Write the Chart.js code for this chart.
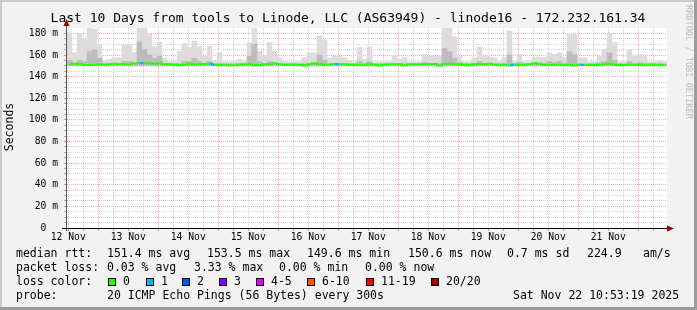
<!DOCTYPE html>
<html>
<head>
<meta charset="utf-8">
<script src="https://cdn.jsdelivr.net/npm/chart.js@4.4.1/dist/chart.umd.min.js"></script>
<style>
  html, body { margin: 0; padding: 0; background: #f2f2f2; overflow: hidden; }
  #chart { display: block; }
</style>
</head>
<body>
<canvas id="chart" width="697" height="310"></canvas>
<script>
// 1. DATA (one value per 2 hour bin, 120 bins = 10 days)
const dayLabels = ['12 Nov', '13 Nov', '14 Nov', '15 Nov', '16 Nov', '17 Nov', '18 Nov', '19 Nov', '20 Nov', '21 Nov'];

const medianRtt = [
  151.7, 152.0, 151.7, 150.8, 150.8, 151.1, 151.4, 151.1, 151.4, 152.0,
  151.7, 151.4, 151.4, 152.3, 152.6, 152.3, 152.3, 152.0, 152.3, 151.4,
  151.4, 151.1, 150.8, 151.1, 152.0, 151.4, 151.4, 151.7, 152.0, 151.1,
  151.1, 150.8, 150.5, 150.5, 151.1, 151.4, 151.4, 150.5, 150.8, 151.4,
  151.4, 152.3, 151.7, 151.1, 151.1, 151.1, 150.8, 150.2, 151.4, 152.3,
  151.4, 151.1, 151.1, 151.7, 151.4, 151.4, 151.1, 151.1, 151.1, 151.1,
  151.4, 151.1, 150.2, 151.1, 151.4, 151.4, 151.4, 150.2, 151.4, 151.4,
  151.4, 151.7, 151.7, 151.7, 150.2, 152.0, 152.0, 151.4, 151.4, 151.1,
  150.5, 151.4, 151.4, 151.7, 152.0, 151.1, 151.1, 151.1, 150.5, 151.1,
  151.1, 151.1, 151.4, 152.3, 152.0, 151.1, 151.1, 151.1, 151.1, 151.1,
  151.1, 150.2, 151.1, 150.8, 150.8, 150.8, 150.8, 151.4, 152.0, 151.1,
  150.8, 150.8, 151.1, 151.1, 151.1, 151.1, 151.1, 151.1, 151.1, 150.8
];

const smokeMax = [
  180.6, 162.0, 180.0, 174.5, 184.6, 184.0, 170.0, 155.0, 156.0, 157.5,
  157.5, 169.0, 170.0, 162.0, 184.6, 184.6, 179.0, 168.0, 172.0, 157.0,
  154.0, 154.0, 163.5, 170.5, 167.0, 173.0, 168.0, 159.0, 168.0, 154.0,
  162.0, 153.8, 153.8, 154.0, 156.0, 154.0, 171.5, 184.6, 163.5, 159.0,
  171.5, 163.5, 157.5, 154.0, 153.8, 153.8, 153.8, 157.5, 162.0, 162.0,
  177.7, 173.8, 157.5, 159.0, 159.0, 157.5, 155.0, 153.8, 167.0, 156.0,
  167.4, 153.8, 153.8, 153.8, 153.8, 159.0, 156.0, 158.0, 153.8, 153.8,
  153.8, 160.6, 159.0, 159.0, 159.0, 185.0, 185.0, 176.6, 159.0, 153.8,
  153.8, 157.5, 167.4, 159.0, 158.0, 157.5, 153.8, 157.5, 182.0, 153.8,
  160.6, 153.8, 153.8, 158.0, 158.0, 157.5, 162.0, 160.6, 162.0, 157.5,
  179.0, 179.0, 157.5, 157.5, 153.8, 153.8, 159.0, 165.3, 180.0, 171.5,
  153.8, 153.8, 165.3, 159.0, 160.6, 159.0, 153.8, 153.8, 155.0, 153.8
];

const smokeMid = [
  155.0, 152.0, 155.0, 154.0, 163.0, 165.0, 157.0, 152.0, 152.0, 152.0,
  152.0, 154.0, 154.0, 152.0, 172.0, 165.0, 160.0, 157.0, 159.0, 152.0,
  152.0, 152.0, 152.0, 154.0, 154.0, 157.0, 154.0, 152.0, 154.0, 152.0,
  152.0, 152.0, 152.0, 152.0, 152.0, 152.0, 159.0, 170.0, 154.0, 152.0,
  154.0, 152.0, 152.0, 152.0, 152.0, 152.0, 152.0, 152.0, 152.0, 152.0,
  160.0, 155.0, 152.0, 152.0, 152.0, 152.0, 152.0, 152.0, 154.0, 152.0,
  154.0, 152.0, 152.0, 152.0, 152.0, 152.0, 152.0, 152.0, 152.0, 152.0,
  152.0, 153.0, 152.0, 152.0, 152.0, 166.0, 163.0, 157.0, 153.0, 152.0,
  152.0, 152.0, 154.0, 152.0, 152.0, 152.0, 152.0, 152.0, 160.0, 152.0,
  153.0, 152.0, 152.0, 152.0, 152.0, 152.0, 154.0, 153.0, 154.0, 152.0,
  163.0, 160.0, 152.0, 152.0, 152.0, 152.0, 153.0, 154.0, 162.0, 155.0,
  152.0, 152.0, 154.0, 152.0, 153.0, 152.0, 152.0, 152.0, 152.0, 152.0
];

const lossBins = [14, 28, 53, 88, 102];   // bins with 1/20 lost
const smokeLow = 150;

const lossColors = ['#26ff00', '#00b8ff', '#0059ff', '#7e00ff', '#dd00ff', '#ff5500', '#ff0000', '#a10000'];
const lossNames = ['0', '1', '2', '3', '4-5', '6-10', '11-19', '20/20'];

const binHours = 2;
const firstMidnight = 12.5;   // hours after graph start
const mono = '"DejaVu Sans Mono", "Liberation Mono", monospace';

const hours = medianRtt.map((v, i) => i * binHours + binHours / 2);

// 2. PLUGINS (frame, legend text, axes arrows)
const rrdFrame = {
  id: 'rrdFrame',
  beforeDraw(chart) {
    const c = chart.ctx, a = chart.chartArea;
    c.save();
    c.fillStyle = '#f2f2f2';
    c.fillRect(0, 0, 697, 310);
    c.fillStyle = '#cbcbcb';
    c.fillRect(0, 0, 697, 2);
    c.fillRect(0, 0, 2, 310);
    c.fillStyle = '#9c9c9c';
    c.fillRect(0, 307, 697, 3);
    c.fillRect(694, 0, 3, 310);
    c.fillStyle = '#ffffff';
    c.fillRect(a.left, a.top, a.right - a.left, a.bottom - a.top);
    c.restore();
  },
  afterDraw(chart) {
    const c = chart.ctx, a = chart.chartArea;
    c.save();
    // axes
    c.strokeStyle = '#555';
    c.lineWidth = 1;
    c.beginPath(); c.moveTo(66.5, a.bottom + 3); c.lineTo(66.5, 24); c.stroke();
    c.strokeStyle = '#000';
    c.beginPath(); c.moveTo(62, 228.5); c.lineTo(668, 228.5); c.stroke();
    c.fillStyle = '#990000';
    c.beginPath(); c.moveTo(63.5, 26); c.lineTo(69.5, 26); c.lineTo(66.5, 19); c.closePath(); c.fill();
    c.beginPath(); c.moveTo(667, 225.5); c.lineTo(667, 231.5); c.lineTo(674, 228.5); c.closePath(); c.fill();

    // title and side texts
    c.fillStyle = '#000';
    c.textBaseline = 'middle';
    c.textAlign = 'center';
    c.font = '13px ' + mono;
    c.fillText('Last 10 Days from tools to Linode, LLC (AS63949) - linode16 - 172.232.161.34', 348, 19);

    c.save();
    c.translate(10, 127);
    c.rotate(-Math.PI / 2);
    c.font = '11.5px ' + mono;
    c.fillText('Seconds', 0, 0);
    c.restore();

    c.save();
    c.translate(688, 5);
    c.rotate(Math.PI / 2);
    c.textAlign = 'left';
    c.fillStyle = '#bdbdbd';
    c.font = '8.6px ' + mono;
    c.fillText('RRDTOOL / TOBI OETIKER', 0, 0);
    c.restore();

    // legend
    c.textAlign = 'left';
    c.font = '11.5px ' + mono;
    const rows = [
      [254, [[16, 'median rtt:'], [107, '151.4 ms avg'], [207, '153.5 ms max'], [307, '149.6 ms min'],
             [408, '150.6 ms now'], [507, '0.7 ms sd'], [587, '224.9'], [643, 'am/s']]],
      [268, [[16, 'packet loss:'], [107, '0.03 % avg'], [194, '3.33 % max'], [279, '0.00 % min'], [365, '0.00 % now']]],
      [296, [[16, 'probe:'], [107, '20 ICMP Echo Pings (56 Bytes) every 300s'], [513, 'Sat Nov 22 10:53:19 2025']]]
    ];
    rows.forEach(([y, parts]) => parts.forEach(([x, t]) => c.fillText(t, x, y)));

    c.fillText('loss color:', 16, 282);
    const boxX = [108, 146, 182, 219, 256, 307, 366, 431];
    lossNames.forEach((n, i) => {
      c.fillStyle = lossColors[i];
      c.fillRect(boxX[i] + 0.5, 278.5, 7, 7);
      c.strokeStyle = '#000';
      c.strokeRect(boxX[i] + 0.5, 278.5, 7, 7);
      c.fillStyle = '#000';
      c.fillText(n, boxX[i] + 15, 282);
    });
    c.restore();
  }
};

// 3. CHART
const tickVal = ctx => (ctx.tick ? ctx.tick.value : NaN);
const isMidnight = v => ((v - firstMidnight) % 24 + 24) % 24 === 0;
const isNoon = v => ((v - firstMidnight - 12) % 24 + 24) % 24 === 0;
const isMajorY = v => v % 20 === 0;

new Chart(document.getElementById('chart'), {
  type: 'bar',
  data: {
    datasets: [
      {
        type: 'line',
        data: medianRtt.map((v, i) => ({ x: hours[i], y: v })),
        borderColor: '#26ff00',
        borderWidth: 2,
        pointRadius: 0,
        stepped: 'middle',
        segment: { borderColor: ctx => lossBins.includes(ctx.p0DataIndex) ? '#00b8ff' : '#26ff00' },
        order: 0
      },
      {
        data: smokeMid.map((v, i) => ({ x: hours[i], y: [smokeLow, v] })),
        backgroundColor: '#bcbcbc',
        grouped: false, barPercentage: 1, categoryPercentage: 1, borderWidth: 0,
        order: 1
      },
      {
        data: smokeMax.map((v, i) => ({ x: hours[i], y: [smokeLow, v] })),
        backgroundColor: '#dcdcdc',
        grouped: false, barPercentage: 1, categoryPercentage: 1, borderWidth: 0,
        order: 2
      }
    ]
  },
  options: {
    responsive: false,
    animation: false,
    events: [],
    layout: { padding: { top: 28, right: 30, left: 0, bottom: 0 } },
    plugins: { legend: { display: false }, tooltip: { enabled: false } },
    scales: {
      x: {
        type: 'linear', min: 0, max: 240, offset: false,
        afterBuildTicks: s => {
          const t = [];
          for (let v = firstMidnight % 6; v < 240; v += 6) t.push({ value: v });
          s.ticks = t;
        },
        afterFit: s => { s.height = 82; },
        grid: {
          offset: false,
          color: ctx => isMidnight(tickVal(ctx)) ? 'rgba(255,90,90,0.5)' : 'rgba(175,175,175,0.55)',
          tickColor: ctx => isMidnight(tickVal(ctx)) ? '#ff8080' : '#aaaaaa',
          tickLength: 3, lineWidth: 1
        },
        border: { display: false, dash: [1, 1] },
        ticks: {
          autoSkip: false, maxRotation: 0, padding: 1, color: '#000',
          font: { family: mono, size: 9.7 },
          callback: v => isNoon(v) ? dayLabels[Math.floor((v - firstMidnight + 12) / 24)] : ''
        }
      },
      y: {
        min: 0, max: 185,
        afterBuildTicks: s => {
          const t = [];
          for (let v = 0; v <= 180; v += 5) t.push({ value: v });
          s.ticks = t;
        },
        afterFit: s => { s.width = 67; },
        grid: {
          color: ctx => isMajorY(tickVal(ctx)) ? 'rgba(255,90,90,0.5)' : 'rgba(175,175,175,0.55)',
          tickColor: ctx => isMajorY(tickVal(ctx)) ? '#ff8080' : '#aaaaaa',
          tickLength: 3, lineWidth: 1
        },
        border: { display: false, dash: [1, 1] },
        ticks: {
          autoSkip: false, padding: 6, color: '#000',
          font: { family: mono, size: 9.7 },
          callback: v => v % 20 !== 0 ? '' : (v === 0 ? '0  ' : v + ' m')
        }
      }
    }
  },
  plugins: [rrdFrame]
});
</script>
</body>
</html>
